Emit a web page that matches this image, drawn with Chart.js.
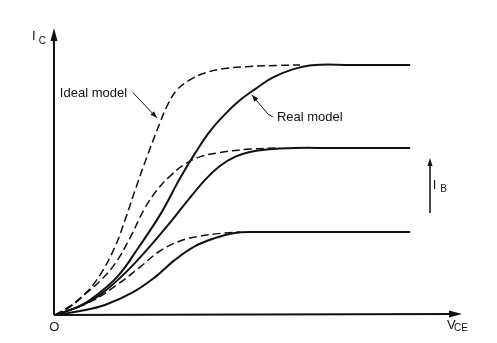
<!DOCTYPE html>
<html>
<head>
<meta charset="utf-8">
<script src="https://cdn.jsdelivr.net/npm/chart.js@4/dist/chart.umd.min.js"></script>
<style>
  html, body { margin: 0; padding: 0; background: #fff; }
  #wrap { width: 497px; height: 343px; }
</style>
</head>
<body>
<div id="wrap"><canvas id="bjt" width="497" height="343"></canvas></div>
<script>
// V_CE (x) and I_C (y) in arbitrary units
const idealHighV = [0, 0.37, 0.74, 1.11, 1.48, 1.73, 1.98, 2.27, 2.59, 2.79, 3.01, 3.33, 3.70, 4.20, 4.81, 5.56, 6.05];
const idealHighI = [0, 0.28, 0.73, 1.39, 2.37, 3.31, 4.36, 5.51, 6.69, 7.35, 7.84, 8.19, 8.43, 8.59, 8.66, 8.70, 8.71];
const realHighV  = [0, 0.49, 0.86, 1.53, 2.07, 2.62, 3.09, 3.46, 3.83, 4.20, 4.57, 4.94, 5.36, 5.85, 6.42, 7.28, 8.77];
const realHighI  = [0, 0.24, 0.52, 1.32, 2.37, 3.55, 4.77, 5.64, 6.41, 7.00, 7.49, 7.87, 8.26, 8.55, 8.71, 8.71, 8.71];

const idealMidV  = [0, 0.37, 0.74, 1.11, 1.48, 1.85, 2.22, 2.54, 2.84, 3.21, 3.58, 4.07, 4.81, 5.56];
const idealMidI  = [0, 0.31, 0.73, 1.18, 1.78, 2.68, 3.73, 4.39, 4.84, 5.26, 5.51, 5.66, 5.78, 5.82];
const realMidV   = [0, 0.62, 1.11, 1.73, 2.35, 2.77, 3.21, 3.70, 4.07, 4.44, 4.81, 5.23, 5.93, 6.80, 8.77];
const realMidI   = [0, 0.31, 0.70, 1.46, 2.40, 3.10, 3.87, 4.70, 5.19, 5.51, 5.68, 5.77, 5.82, 5.82, 5.82];

const idealLowV  = [0, 0.86, 1.53, 2.10, 2.59, 3.09, 3.58, 4.20, 4.57];
const idealLowI  = [0, 0.45, 1.05, 1.67, 2.23, 2.58, 2.75, 2.86, 2.89];
const realLowV   = [0, 0.62, 1.23, 1.93, 2.47, 2.96, 3.46, 3.95, 4.44, 4.94, 5.80, 8.77];
const realLowI   = [0, 0.14, 0.35, 0.80, 1.32, 1.92, 2.40, 2.68, 2.86, 2.89, 2.89, 2.89];

const AXIS_MAX = 10;
const INK = '#111';
const FONT = '"Liberation Sans", Arial, sans-serif';

function pts(xs, ys) {
  return xs.map((v, i) => ({ x: v, y: ys[i] }));
}

function curve(xs, ys, dashed) {
  return {
    data: pts(xs, ys),
    showLine: true,
    borderColor: INK,
    borderWidth: dashed ? 1.5 : 2,
    borderDash: dashed ? [8, 4] : [],
    pointRadius: 0,
    tension: 0.4,
    fill: false,
  };
}

function arrowHead(ctx, x0, y0, x1, y1, len, half) {
  const a = Math.atan2(y1 - y0, x1 - x0);
  ctx.beginPath();
  ctx.moveTo(x1, y1);
  ctx.lineTo(x1 - len * Math.cos(a) + half * Math.sin(a), y1 - len * Math.sin(a) - half * Math.cos(a));
  ctx.lineTo(x1 - len * Math.cos(a) - half * Math.sin(a), y1 - len * Math.sin(a) + half * Math.cos(a));
  ctx.closePath();
  ctx.fill();
}

// axes with arrowheads + the labels of the figure
const figureDecor = {
  id: 'figureDecor',
  afterDatasetsDraw(chart) {
    const ctx = chart.ctx;
    const X = v => chart.scales.x.getPixelForValue(v);
    const Y = v => chart.scales.y.getPixelForValue(v);
    ctx.save();
    ctx.strokeStyle = INK;
    ctx.fillStyle = INK;
    ctx.setLineDash([]);

    // axes
    ctx.lineWidth = 2;
    ctx.beginPath();
    ctx.moveTo(X(0) - 1, Y(0));
    ctx.lineTo(X(0) - 1, Y(AXIS_MAX) + 6);
    ctx.moveTo(X(0) - 1, Y(0));
    ctx.lineTo(X(AXIS_MAX) - 6, Y(0) - 1);
    ctx.stroke();
    arrowHead(ctx, X(0) - 1, Y(0), X(0) - 1, Y(AXIS_MAX), 13, 3.5);
    arrowHead(ctx, X(0), Y(0) - 1, X(AXIS_MAX) + 2, Y(0) - 1, 13, 3.5);

    // Ideal model leader
    ctx.lineWidth = 1;
    ctx.beginPath();
    ctx.moveTo(X(1.93), Y(7.74));
    ctx.lineTo(X(2.52), Y(6.86));
    ctx.stroke();
    arrowHead(ctx, X(1.93), Y(7.74), X(2.52), Y(6.86), 7, 2.5);

    // Real model leader
    ctx.beginPath();
    ctx.moveTo(X(5.38), Y(6.90));
    ctx.lineTo(X(5.26), Y(7.00));
    ctx.lineTo(X(4.86), Y(7.67));
    ctx.stroke();
    arrowHead(ctx, X(5.26), Y(7.00), X(4.86), Y(7.67), 7, 2.5);

    // I_B arrow
    ctx.lineWidth = 1.5;
    ctx.beginPath();
    ctx.moveTo(X(9.26), Y(3.55));
    ctx.lineTo(X(9.26), Y(5.3));
    ctx.stroke();
    arrowHead(ctx, X(9.26), Y(3.55), X(9.26), Y(5.47), 8, 2.5);

    // text
    ctx.textBaseline = 'middle';
    ctx.textAlign = 'left';
    ctx.font = '13px ' + FONT;
    ctx.fillText('Ideal model', X(0.12), Y(7.73));
    ctx.fillText('Real model', X(5.48), Y(6.90));

    ctx.fillText('I', X(-0.57), Y(9.72));
    ctx.fillText('I', X(9.33), Y(4.53));
    ctx.fillText('V', X(9.68), Y(-0.38));
    ctx.font = '10px ' + FONT;
    ctx.fillText('C', X(-0.40), Y(9.55));
    ctx.fillText('B', X(9.51), Y(4.39));
    ctx.fillText('CE', X(9.85), Y(-0.45));

    ctx.textAlign = 'center';
    ctx.font = '13px ' + FONT;
    ctx.fillText('O', X(-0.02), Y(-0.42));
    ctx.restore();
  }
};

new Chart(document.getElementById('bjt'), {
  type: 'scatter',
  data: {
    datasets: [
      curve(idealHighV, idealHighI, true),
      curve(realHighV,  realHighI,  false),
      curve(idealMidV,  idealMidI,  true),
      curve(realMidV,   realMidI,   false),
      curve(idealLowV,  idealLowI,  true),
      curve(realLowV,   realLowI,   false),
    ],
  },
  options: {
    responsive: false,
    animation: false,
    layout: { padding: { left: 55, right: 37, top: 28, bottom: 28 } },
    plugins: { legend: { display: false }, tooltip: { enabled: false } },
    scales: {
      x: { type: 'linear', min: 0, max: AXIS_MAX, display: false },
      y: { type: 'linear', min: 0, max: AXIS_MAX, display: false },
    },
  },
  plugins: [figureDecor],
});
</script>
</body>
</html>
